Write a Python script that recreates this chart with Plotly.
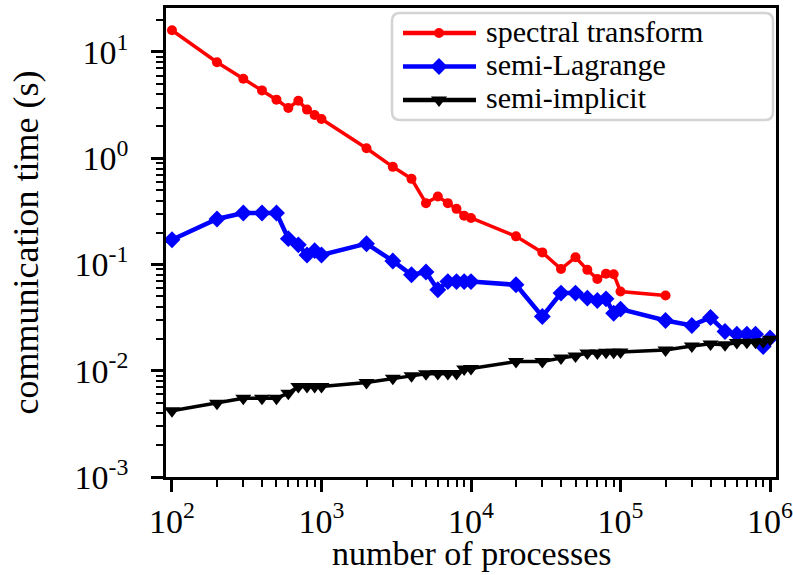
import plotly.graph_objects as go

# ---------------- data ----------------
spectral_x = [100, 200, 300, 400, 500, 600, 700, 800, 900, 1000, 2000, 3000, 4000,
              5000, 6000, 7000, 8000, 9000, 10000, 20000, 30000, 40000, 50000,
              60000, 70000, 80000, 90000, 100000, 200000]
spectral_y = [16.0, 8.0, 5.6, 4.35, 3.56, 2.97, 3.47, 2.87, 2.55, 2.34, 1.24, 0.83, 0.64,
              0.378, 0.436, 0.378, 0.334, 0.288, 0.274, 0.184, 0.13, 0.0906, 0.117,
              0.089, 0.073, 0.082, 0.081, 0.0557, 0.051]

lagrange_x = [100, 200, 300, 400, 500, 600, 700, 800, 900, 1000, 2000, 3000, 4000,
              5000, 6000, 7000, 8000, 9000, 10000, 20000, 30000, 40000, 50000,
              60000, 70000, 80000, 90000, 100000, 200000, 300000, 400000, 500000,
              600000, 700000, 800000, 900000, 1000000]
lagrange_y = [0.171, 0.268, 0.305, 0.305, 0.305, 0.175, 0.153, 0.123, 0.135, 0.123,
              0.157, 0.108, 0.080, 0.085, 0.0578, 0.069, 0.069, 0.069, 0.069, 0.0644,
              0.0324, 0.0538, 0.0538, 0.0483, 0.0458, 0.0475, 0.0348, 0.038, 0.0297,
              0.0267, 0.0317, 0.0234, 0.0221, 0.0221, 0.0221, 0.0169, 0.0203]

implicit_x = lagrange_x
implicit_y = [0.0042, 0.00495, 0.0055, 0.0055, 0.0055, 0.00615, 0.0071, 0.0071, 0.0071,
              0.0071, 0.00775, 0.0085, 0.00895, 0.00935, 0.0094, 0.0094, 0.0094, 0.0104,
              0.0105, 0.0122, 0.0122, 0.01315, 0.0138, 0.0147, 0.0147, 0.0149, 0.0149,
              0.015, 0.0157, 0.0171, 0.0179, 0.0176, 0.01845, 0.0185, 0.0185, 0.0187,
              0.0198]

series_names = ["spectral transform", "semi-Lagrange", "semi-implicit"]

x_tickvals = [1e2, 1e3, 1e4, 1e5, 1e6]
x_ticktext = ["10<sup>2</sup>", "10<sup>3</sup>", "10<sup>4</sup>", "10<sup>5</sup>", "10<sup>6</sup>"]
y_tickvals = [1e-3, 1e-2, 1e-1, 1e0, 1e1]
y_ticktext = ["10<sup>-3</sup>", "10<sup>-2</sup>", "10<sup>-1</sup>", "10<sup>0</sup>", "10<sup>1</sup>"]

x_title = "number of processes"
y_title = "communication time (s)"

# ---------------- styling ----------------
FONT = "Liberation Serif"
colors = ["#ff0000", "#0000ff", "#000000"]
symbols = ["circle", "diamond", "triangle-down"]
msizes = [10, 13, 14]
lwidths = [3.5, 4.5, 3.5]

fig = go.Figure()
for name, xs, ys, c, s, ms, lw in zip(series_names,
                                      [spectral_x, lagrange_x, implicit_x],
                                      [spectral_y, lagrange_y, implicit_y],
                                      colors, symbols, msizes, lwidths):
    fig.add_trace(go.Scatter(x=xs, y=ys, name=name, mode="lines+markers",
                             line=dict(color=c, width=lw),
                             marker=dict(symbol=s, size=ms, color=c),
                             showlegend=False))

minor_x = [m * 10 ** d for d in range(1, 7) for m in range(2, 10)]
minor_y = [m * 10 ** d for d in range(-4, 2) for m in range(2, 10)]

axis_common = dict(
    showgrid=False, zeroline=False,
    showline=True, linecolor="black", linewidth=2.5, mirror=True,
    ticks="outside", ticklen=12, tickwidth=2.5, tickcolor="black",
    tickfont=dict(family=FONT, size=34, color="black"),
    ticklabeloverflow="allow", automargin=False,
)

fig.update_xaxes(
    type="log", range=[1.96, 6.04],
    tickmode="array", tickvals=x_tickvals, ticktext=x_ticktext,
    minor=dict(tickmode="array", tickvals=minor_x, ticks="outside", ticklen=7,
               tickwidth=2, tickcolor="black", showgrid=False),
    ticklabelstandoff=0,
    **axis_common)
fig.update_yaxes(
    type="log", range=[-3, 1.414],
    tickmode="array", tickvals=y_tickvals, ticktext=y_ticktext,
    minor=dict(tickmode="array", tickvals=minor_y, ticks="outside", ticklen=7,
               tickwidth=2, tickcolor="black", showgrid=False),
    ticklabelstandoff=16,
    title=dict(text=y_title, font=dict(family=FONT, size=36, color="black"), standoff=26),
    **axis_common)

# ---------------- helpers for paper coordinates ----------------
PLOT_W, PLOT_H, PLOT_L, PLOT_T = 610, 469, 166, 8
def px(xpix):
    return (xpix - PLOT_L) / PLOT_W
def py(ypix):
    return 1 - (ypix - PLOT_T) / PLOT_H

# x-axis title as annotation (placed just below tick labels)
fig.add_annotation(x=0.5, y=py(553), xref="paper", yref="paper", text=x_title,
                   showarrow=False, xanchor="center", yanchor="middle",
                   font=dict(family=FONT, size=34, color="black"))

# ---------------- legend (drawn manually for matplotlib-like compact layout) ----------------
L, R, B, T = px(392), px(773), py(120), py(13)
rx, ry = 8 / PLOT_W, 8 / PLOT_H
path = (f"M {L+rx},{B} L {R-rx},{B} Q {R},{B} {R},{B+ry} L {R},{T-ry} Q {R},{T} {R-rx},{T} "
        f"L {L+rx},{T} Q {L},{T} {L},{T-ry} L {L},{B+ry} Q {L},{B} {L+rx},{B} Z")
fig.add_shape(type="path", path=path, xref="paper", yref="paper",
              line=dict(color="#d4d4d4", width=2.5), fillcolor="rgba(255,255,255,0.85)",
              layer="below")

row_pix = [33, 66.5, 100]
for i, (name, c, s, ms) in enumerate(zip(series_names, colors, symbols, msizes)):
    ry_ = py(row_pix[i])
    fig.add_trace(go.Scatter(x=[px(403), px(476)], y=[ry_, ry_], mode="lines",
                             line=dict(color=c, width=4.5), xaxis="x2", yaxis="y2",
                             showlegend=False, hoverinfo="skip"))
    fig.add_trace(go.Scatter(x=[px(439)], y=[ry_], mode="markers",
                             marker=dict(symbol=s, size=ms, color=c), xaxis="x2", yaxis="y2",
                             showlegend=False, hoverinfo="skip"))
    fig.add_annotation(x=px(484), y=py(row_pix[i] - 2), xref="paper", yref="paper",
                       text=name, showarrow=False, xanchor="left", yanchor="middle",
                       font=dict(family=FONT, size=30, color="black"))

fig.update_layout(
    xaxis2=dict(overlaying="x", range=[0, 1], visible=False),
    yaxis2=dict(overlaying="y", range=[0, 1], visible=False),
    width=793, height=575,
    margin=dict(l=166, r=17, t=8, b=98, autoexpand=False),
    paper_bgcolor="white", plot_bgcolor="white",
    font=dict(family=FONT, size=34, color="black"),
    showlegend=False,
)

fig.write_html("out.html")
